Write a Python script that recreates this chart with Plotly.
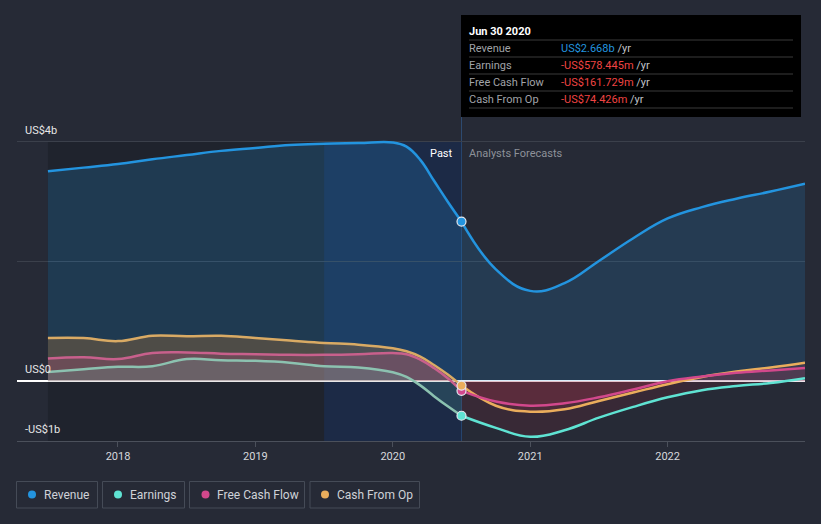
import plotly.graph_objects as go

# ---------------- data ----------------
past_x = [2017.49, 2017.75, 2018.0, 2018.25, 2018.5, 2018.75, 2019.0, 2019.25, 2019.5,
          2019.75, 2020.0, 2020.1, 2020.2, 2020.3, 2020.4, 2020.5]
fc_x = [2020.5, 2020.75, 2021.0, 2021.25, 2021.5, 2021.75, 2022.0, 2022.25, 2022.5, 2022.75, 2023.0]

revenue_past = [3.51, 3.57, 3.63, 3.71, 3.78, 3.85, 3.90, 3.95, 3.97, 3.98, 3.99, 3.92, 3.70, 3.35, 3.00, 2.668]
revenue_fc = [2.668, 1.87, 1.51, 1.64, 2.01, 2.39, 2.72, 2.91, 3.05, 3.17, 3.30]
earnings_past = [0.155, 0.20, 0.24, 0.25, 0.37, 0.35, 0.34, 0.31, 0.25, 0.23, 0.15, 0.07, -0.07, -0.25, -0.42, -0.578]
earnings_fc = [-0.578, -0.78, -0.93, -0.82, -0.61, -0.43, -0.27, -0.15, -0.08, -0.03, 0.05]
fcf_past = [0.38, 0.40, 0.37, 0.47, 0.48, 0.46, 0.45, 0.44, 0.44, 0.45, 0.47, 0.45, 0.36, 0.22, 0.05, -0.162]
fcf_fc = [-0.162, -0.34, -0.41, -0.37, -0.27, -0.14, 0.0, 0.08, 0.14, 0.18, 0.22]
cfo_past = [0.72, 0.72, 0.67, 0.76, 0.75, 0.76, 0.72, 0.68, 0.64, 0.61, 0.55, 0.50, 0.41, 0.27, 0.11, -0.074]
cfo_fc = [-0.074, -0.41, -0.51, -0.47, -0.33, -0.19, -0.05, 0.07, 0.16, 0.23, 0.31]

series_names = ["Revenue", "Earnings", "Free Cash Flow", "Cash From Op"]
x_tick_vals = [2018, 2019, 2020, 2021, 2022]
x_tick_text = ["2018", "2019", "2020", "2021", "2022"]
y_label_vals = [4, 0, -1]
y_label_text = ["US$4b", "US$0", "-US$1b"]

tooltip_title = "Jun 30 2020"
tooltip_values = ["US$2.668b", "-US$578.445m", "-US$161.729m", "-US$74.426m"]
split_x = 2020.5

# ---------------- styles ----------------
BG = "#262a36"
FONT = "Roboto, sans-serif"
SM = 1.2
col_main = ["#2394df", "#5fe3d3", "#d2488c", "#eaad5c"]
col_past = ["#2394df", "#8cc2b0", "#c8608c", "#d9aa64"]
fill_past = ["rgba(35,148,223,0.20)", "rgba(110,220,200,0.15)", "rgba(220,80,150,0.20)", "rgba(190,120,50,0.30)"]
fill_fc = ["rgba(35,148,223,0.17)", "rgba(160,40,60,0.15)", "rgba(200,60,80,0.12)", "rgba(200,60,80,0.15)"]

past_vals = [revenue_past, earnings_past, fcf_past, cfo_past]
fc_vals = [revenue_fc, earnings_fc, fcf_fc, cfo_fc]

L, R, T, B = 17, 16, 112, 83
W, H = 821, 524
PW, PH = W - L - R, H - T - B


def xp(px):
    return (px - L) / PW


def yp(py):
    return (H - B - py) / PH


fig = go.Figure()

order = [0, 3, 2, 1]
for i in order:
    fig.add_trace(go.Scatter(x=past_x, y=past_vals[i], mode="lines", line=dict(width=0, shape="spline", smoothing=SM),
                             fill="tozeroy", fillcolor=fill_past[i], hoverinfo="skip", showlegend=False))
    fig.add_trace(go.Scatter(x=fc_x, y=fc_vals[i], mode="lines", line=dict(width=0, shape="spline", smoothing=SM),
                             fill="tozeroy", fillcolor=fill_fc[i], hoverinfo="skip", showlegend=False))
for i in order:
    fig.add_trace(go.Scatter(x=past_x, y=past_vals[i], mode="lines",
                             line=dict(width=2.5, color=col_past[i], shape="spline", smoothing=SM),
                             name=series_names[i], showlegend=False))
    fig.add_trace(go.Scatter(x=fc_x, y=fc_vals[i], mode="lines",
                             line=dict(width=2.5, color=col_main[i], shape="spline", smoothing=SM),
                             name=series_names[i], showlegend=False))
for i in [0, 1, 2, 3]:
    fig.add_trace(go.Scatter(x=[past_x[-1]], y=[past_vals[i][-1]], mode="markers",
                             marker=dict(size=9, color=col_main[i], line=dict(color="#e6e9f0", width=1.2)),
                             showlegend=False, hoverinfo="skip", cliponaxis=False))

shapes = []
shapes.append(dict(type="rect", xref="x", yref="y", x0=past_x[0], x1=2019.5, y0=-1, y1=4,
                   fillcolor="rgba(0,0,0,0.16)", line=dict(width=0), layer="below"))
shapes.append(dict(type="rect", xref="x", yref="y", x0=2019.5, x1=split_x, y0=-1, y1=4,
                   fillcolor="rgba(10,45,100,0.36)", line=dict(width=0), layer="below"))
shapes.append(dict(type="line", xref="x", yref="paper", x0=split_x, x1=split_x, y0=0, y1=yp(117),
                   line=dict(color="#2d4a70", width=1), layer="below"))

shapes.append(dict(type="rect", xref="paper", yref="paper", x0=xp(461), x1=xp(801), y0=yp(117), y1=yp(15),
                   fillcolor="#000000", line=dict(width=0), layer="above"))
for py in [40, 57, 74, 91, 108]:
    shapes.append(dict(type="line", xref="paper", yref="paper", x0=xp(469), x1=xp(793), y0=yp(py), y1=yp(py),
                       line=dict(color="#3a3a3a", width=1), layer="above"))

annotations = []
annotations.append(dict(xref="paper", yref="paper", x=xp(467), y=yp(31), xanchor="left", yanchor="middle",
                        text="<b>" + tooltip_title + "</b>", showarrow=False,
                        font=dict(family=FONT, size=11, color="#ffffff")))
val_cols = ["#2394df", "#ef4443", "#ef4443", "#ef4443"]
for k, name in enumerate(series_names):
    py = 48.5 + 17 * k
    annotations.append(dict(xref="paper", yref="paper", x=xp(467), y=yp(py), xanchor="left", yanchor="middle",
                            text=name, showarrow=False, font=dict(family=FONT, size=11, color="#a0a3a8")))
    annotations.append(dict(xref="paper", yref="paper", x=xp(559), y=yp(py), xanchor="left", yanchor="middle",
                            text='<span style="color:%s">%s</span> /yr' % (val_cols[k], tooltip_values[k]),
                            showarrow=False, font=dict(family=FONT, size=11, color="#c0c3c8")))

annotations.append(dict(xref="paper", yref="paper", x=xp(455), y=yp(153.5), xanchor="right", yanchor="middle",
                        text="Past", showarrow=False, font=dict(family=FONT, size=11, color="#ffffff")))
annotations.append(dict(xref="paper", yref="paper", x=xp(467), y=yp(153.5), xanchor="left", yanchor="middle",
                        text="Analysts Forecasts", showarrow=False, font=dict(family=FONT, size=11, color="#8d9199")))

for v, t in zip(y_label_vals, y_label_text):
    annotations.append(dict(xref="paper", yref="y", x=xp(23), y=v, xanchor="left", yanchor="bottom", yshift=3,
                            text=t, showarrow=False, font=dict(family=FONT, size=11, color="#e6e6e6")))

boxes = [(16.5, 97.5), (102.5, 184.5), (189.5, 304.5), (310, 419.5)]
dots = [32, 118, 205.5, 325]
texts_x = [42, 128, 215, 335]
for k, name in enumerate(series_names):
    x0, x1 = boxes[k]
    shapes.append(dict(type="rect", xref="paper", yref="paper", x0=xp(x0), x1=xp(x1), y0=yp(508), y1=yp(481.5),
                       line=dict(color="#454b57", width=1), fillcolor="rgba(0,0,0,0)"))
    r = 4
    shapes.append(dict(type="circle", xref="paper", yref="paper", x0=xp(dots[k] - r), x1=xp(dots[k] + r),
                       y0=yp(494.5 + r), y1=yp(494.5 - r), fillcolor=col_main[k], line=dict(width=0)))
    annotations.append(dict(xref="paper", yref="paper", x=xp(texts_x[k]), y=yp(494.5), xanchor="left",
                            yanchor="middle", text=name, showarrow=False,
                            font=dict(family=FONT, size=12, color="#cfd2d8")))

fig.update_layout(
    width=W, height=H, margin=dict(l=L, r=R, t=T, b=B),
    paper_bgcolor=BG, plot_bgcolor=BG,
    showlegend=False, shapes=shapes, annotations=annotations,
    font=dict(family=FONT),
    xaxis=dict(range=[2017.265, 2023.0], tickvals=x_tick_vals, ticktext=x_tick_text, showgrid=False,
               showline=True, linecolor="#4b505b", linewidth=1, ticks="outside", ticklen=5, tickcolor="#4b505b",
               tickfont=dict(family=FONT, size=11, color="#d6d8dc"), zeroline=False, fixedrange=True),
    yaxis=dict(range=[-1, 4.5], tickvals=[2, 4], showticklabels=False, showgrid=True, gridcolor="#3b404b",
               gridwidth=1, zeroline=True, zerolinecolor="#ffffff", zerolinewidth=1.5, showline=False,
               fixedrange=True),
)

fig.write_html("out.html")
